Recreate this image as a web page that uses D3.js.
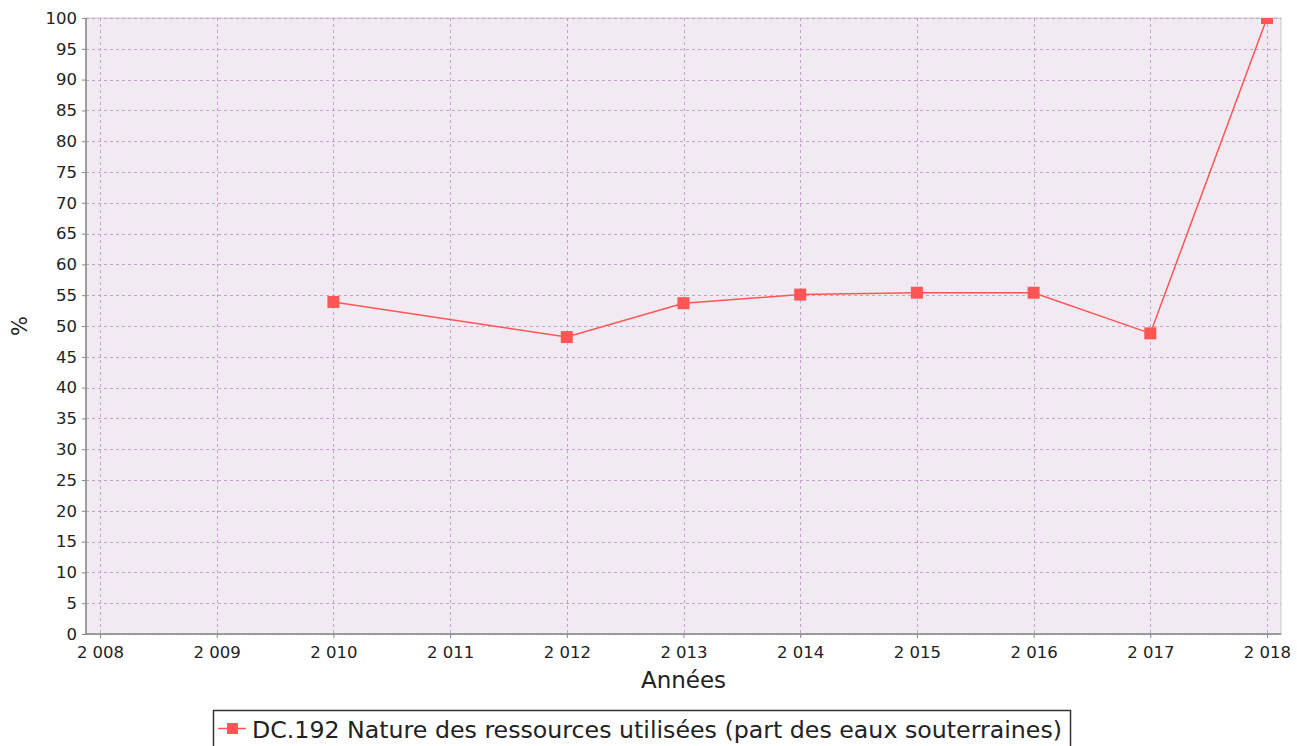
<!DOCTYPE html>
<html>
<head>
<meta charset="utf-8">
<script src="https://cdn.jsdelivr.net/npm/d3@7"></script>
<style>
  body { margin: 0; background: #ffffff; }
  text { font-family: "DejaVu Sans", sans-serif; fill: #222; }
</style>
</head>
<body>
<div id="chart"></div>
<script>
// data
var years = [2010, 2012, 2013, 2014, 2015, 2016, 2017, 2018];
var values = [53.9, 48.2, 53.7, 55.1, 55.4, 55.4, 48.8, 100];
var yTicks = d3.range(0, 101, 5);
var xTicks = d3.range(2008, 2019, 1);
var seriesName = "DC.192 Nature des ressources utilisées (part des eaux souterraines)";

var width = 1297,
    height = 746;

var margin = { left: 86, right: 16, top: 18, bottom: 112 };
var plotW = width - margin.left - margin.right,
    plotH = height - margin.top - margin.bottom;

var fr = d3.formatLocale({ decimal: ",", thousands: " ", grouping: [3], currency: ["", " €"] });
var yearFmt = fr.format(",d");

var svg = d3.select("#chart")
            .append("svg")
            .attr("width", width)
            .attr("height", height);

var x = d3.scaleLinear()
          .domain([2008 - 0.12, 2018 + 0.12])
          .range([0, plotW]);

var y = d3.scaleLinear()
          .domain([0, 100])
          .range([plotH, 0]);

var g = svg.append("g")
           .attr("transform", "translate(" + margin.left + "," + margin.top + ")");

// plot background
g.append("rect")
 .attr("width", plotW)
 .attr("height", plotH)
 .attr("fill", "#f2eaf2")
 .attr("stroke", "#c8c8c8");

// grid lines
g.append("g").selectAll("line.h")
 .data(yTicks)
 .enter()
 .append("line")
 .attr("x1", 0)
 .attr("x2", plotW)
 .attr("y1", function (d) { return Math.round(y(d)) + 0.5; })
 .attr("y2", function (d) { return Math.round(y(d)) + 0.5; })
 .attr("stroke", "#c4a2c9")
 .attr("stroke-dasharray", "3,3");

g.append("g").selectAll("line.v")
 .data(xTicks)
 .enter()
 .append("line")
 .attr("y1", 0)
 .attr("y2", plotH)
 .attr("x1", function (d) { return Math.round(x(d)) + 0.5; })
 .attr("x2", function (d) { return Math.round(x(d)) + 0.5; })
 .attr("stroke", "#c4a2c9")
 .attr("stroke-dasharray", "3,3");

// axes
var yAxis = g.append("g")
             .call(d3.axisLeft(y).tickValues(yTicks).tickSize(4).tickPadding(5));
var xAxis = g.append("g")
             .attr("transform", "translate(0," + plotH + ")")
             .call(d3.axisBottom(x).tickValues(xTicks).tickFormat(yearFmt).tickSize(4).tickPadding(8));

[yAxis, xAxis].forEach(function (a) {
  a.select(".domain").attr("stroke", "#888").attr("stroke-width", 1.5);
  a.selectAll(".tick line").attr("stroke", "#888");
  a.selectAll(".tick text")
   .attr("font-family", "DejaVu Sans, sans-serif")
   .attr("font-size", 16.5)
   .attr("fill", "#222");
});
xAxis.select(".domain").attr("d", "M0,0H" + plotW);
yAxis.select(".domain").attr("d", "M0,0V" + plotH);

// axis titles
svg.append("text")
   .attr("transform", "translate(27," + (margin.top + plotH / 2) + ") rotate(-90)")
   .attr("text-anchor", "middle")
   .attr("font-size", 21)
   .text("%");

svg.append("text")
   .attr("x", margin.left + plotW / 2)
   .attr("y", 688)
   .attr("text-anchor", "middle")
   .attr("font-size", 23)
   .text("Années");

// series
var pts = years.map(function (d, i) { return { year: d, value: values[i] }; });

svg.append("clipPath").attr("id", "plotclip")
   .append("rect").attr("width", plotW).attr("height", plotH);

var series = g.append("g").attr("clip-path", "url(#plotclip)");

series.append("path")
      .datum(pts)
      .attr("fill", "none")
      .attr("stroke", "#ff5555")
      .attr("stroke-width", 1.5)
      .attr("d", d3.line()
                   .x(function (d) { return x(d.year); })
                   .y(function (d) { return y(d.value); }));

series.selectAll("rect.pt")
      .data(pts)
      .enter()
      .append("rect")
      .attr("x", function (d) { return x(d.year) - 6; })
      .attr("y", function (d) { return y(d.value) - 6; })
      .attr("width", 12)
      .attr("height", 12)
      .attr("fill", "#ff5555");

// legend
var legend = svg.append("g").attr("transform", "translate(213,710)");
legend.append("rect")
      .attr("x", 0.5)
      .attr("y", 0.5)
      .attr("width", 857)
      .attr("height", 50)
      .attr("fill", "#fff")
      .attr("stroke", "#333")
      .attr("stroke-width", 1.5);
legend.append("line")
      .attr("x1", 5).attr("x2", 33)
      .attr("y1", 18.5).attr("y2", 18.5)
      .attr("stroke", "#ff5555")
      .attr("stroke-width", 1.5);
legend.append("rect")
      .attr("x", 14).attr("y", 13)
      .attr("width", 11).attr("height", 11)
      .attr("fill", "#ff5555");
legend.append("text")
      .attr("x", 39)
      .attr("y", 28)
      .attr("font-size", 23.7)
      .text(seriesName);
</script>
</body>
</html>
